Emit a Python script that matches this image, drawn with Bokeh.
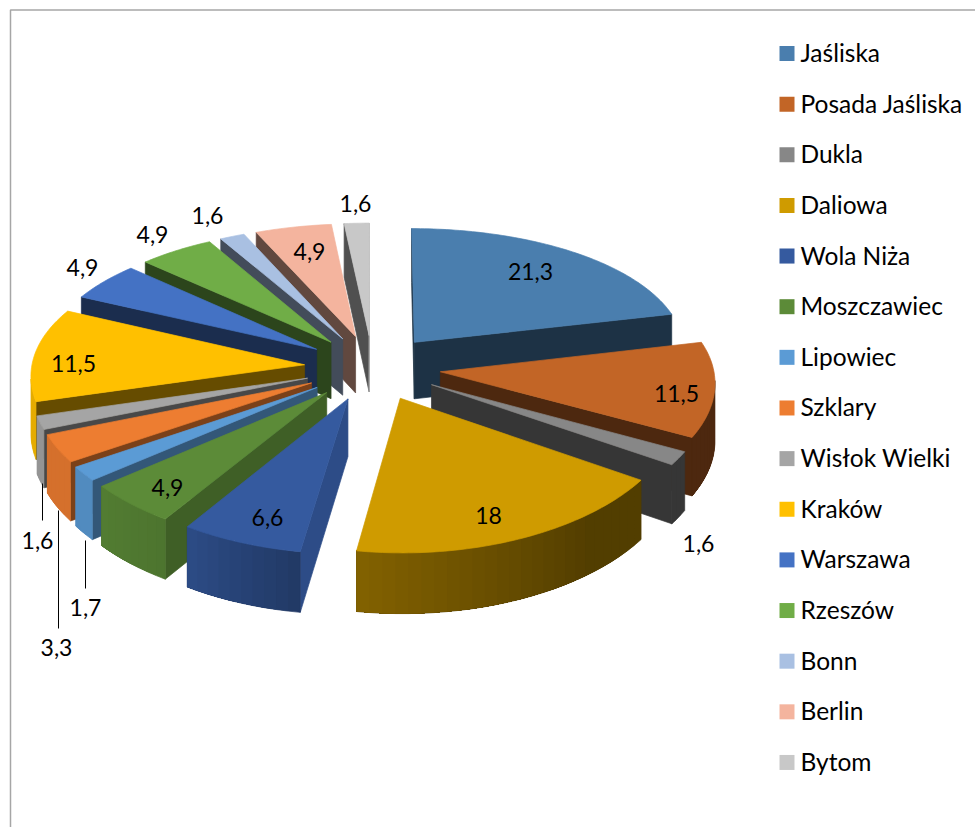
import math
import numpy as np
from bokeh.plotting import figure
from bokeh.models import ColumnDataSource, Range1d
from bokeh.core.properties import value
from bokeh.embed import file_html
from bokeh.resources import INLINE

categories = ["Jaśliska", "Posada Jaśliska", "Dukla", "Daliowa", "Wola Niża", "Moszczawiec", "Lipowiec",
              "Szklary", "Wisłok Wielki", "Kraków", "Warszawa", "Rzeszów", "Bonn", "Berlin", "Bytom"]
values = [21.3, 11.5, 1.6, 18, 6.6, 4.9, 1.7, 3.3, 1.6, 11.5, 4.9, 4.9, 1.6, 4.9, 1.6]
colors = ["#4A7EAE", "#C26526", "#878787", "#CF9B00", "#355A9F", "#5C8B38", "#5B9BD5", "#ED7D31",
          "#A5A5A5", "#FFC000", "#4472C4", "#70AD47", "#A9C0E2", "#F4B49E", "#C8C8C8"]
label_x = [530, 676, 698, 488, 267, 167, 85, 56, 37, 73, 82, 152, 207, 309, 355]
label_y = [271, 393, 543, 515, 517, 487, 607, 647, 540, 363, 267, 234, 215, 251, 203]
leaders = [(42, 483, 520), (58, 510, 628), (85, 540, 588)]

FONT = "Lato"
CX, CY, A, B, K, KX, KZ, H, EXPLODE = 372, 367, 273, 131, 0.107, 0.07, 0.05, 57, 0.25


def proj(u, v, z=0.0):
    w = 1 - K * v
    return CX + A * u / (1 - KX * v), CY + B * v / w + H * z / (1 - KZ * v)


def shade(col, f):
    r, g, b = (int(col[i:i + 2], 16) for i in (1, 3, 5))
    return "#%02x%02x%02x" % (int(r * f), int(g * f), int(b * f))


def radial_f(normal):
    return float(np.interp(normal, [98, 164], [0.86, 0.4]))


def outer_f(t):
    return float(np.interp(t, [140, 188, 212, 230, 360], [0.4, 0.63, 0.84, 0.9, 0.9]))


xs, ys, fills, alphas = [], [], [], []
total = sum(values)
cum = np.cumsum([0] + values) / total * 360
order = sorted(range(len(values)), key=lambda i: -math.cos(math.radians((cum[i] + cum[i + 1]) / 2)))

for i in order:
    t0, t1 = cum[i], cum[i + 1]
    mid = math.radians((t0 + t1) / 2)
    ex, ey = EXPLODE * math.sin(mid), -EXPLODE * math.cos(mid)

    def rim(t, z=0.0):
        r = math.radians(t)
        return proj(ex + math.sin(r), ey - math.cos(r), z)

    arc = np.linspace(t0, t1, max(3, int(t1 - t0) + 2))
    apex = proj(ex, ey)
    apex_b = proj(ex, ey, 1.0)
    top = [apex] + [rim(t) for t in arc]
    cx_top = sum(p[0] for p in top) / len(top)
    cy_top = sum(p[1] for p in top) / len(top)

    def visible(P, Q):
        dx, dy = Q[0] - P[0], Q[1] - P[1]
        cr = dx * (cy_top - P[1]) - dy * (cx_top - P[0])
        return cr < 0 if dx > 0 else cr > 0

    def add(poly, col, alpha=1.0):
        xs.append([p[0] for p in poly])
        ys.append([p[1] for p in poly])
        fills.append(col)
        alphas.append(alpha)

    # radial cut faces
    for t, normal in ((t0, t0 - 90), (t1, t1 + 90)):
        Q = rim(t)
        if visible(apex, Q):
            add([apex, Q, rim(t, 1.0), apex_b], shade(colors[i], radial_f(normal % 360)))
    # outer wall: each band runs on to the wall's far end, the next band paints over it,
    # so that no seam can show between two bands
    n = max(2, int((t1 - t0) / 2.5) + 1)
    edges = np.linspace(t0, t1, n + 1)
    vis = [(a, b) for a, b in zip(edges[:-1], edges[1:]) if visible(rim(a), rim(b))]
    if vis:
        hi = vis[-1][1]
        for j, (a, b) in enumerate(vis):
            ts = [e for e in edges if a <= e <= hi]
            poly = [rim(t) for t in ts] + [rim(t, 1.0) for t in ts[::-1]]
            add(poly, shade(colors[i], outer_f((a + b) / 2)), 1.0 if j == 0 else 0.0)
    add(top, colors[i])

p = figure(width=975, height=827, output_backend="svg", toolbar_location=None,
           x_range=Range1d(0, 975), y_range=Range1d(827, 0), min_border=0, outline_line_color=None)
p.xaxis.visible = False
p.yaxis.visible = False
p.grid.visible = False

# chart frame
p.line([10, 10, 975], [827, 9.5, 9.5], line_color="#a6a6a6", line_width=1.5)

src = ColumnDataSource(dict(xs=xs, ys=ys, fill=fills, la=alphas))
p.patches("xs", "ys", source=src, fill_color="fill", line_color="fill", line_alpha="la", line_width=0.7)

# leader lines
p.multi_line([[x, x] for x, _, _ in leaders], [[a, b] for _, a, b in leaders], line_color="black", line_width=1)

# data labels
labels = [str(v).replace(".", ",") for v in values]
p.text(label_x, label_y, text=labels, text_font=value(FONT), text_font_size="23px",
       text_align="center", text_baseline="middle", text_color="black")

# legend
legend_y = [53 + i * 50.64 for i in range(len(categories))]
p.rect([786.5] * len(categories), legend_y, width=15, height=15, fill_color=colors, line_color=None)
p.text([800] * len(categories), [y - 1 for y in legend_y], text=categories, text_font=value(FONT),
       text_font_size="24.5px", text_align="left", text_baseline="middle", text_color="black")

open("out.html", "w").write(file_html(p, INLINE))
